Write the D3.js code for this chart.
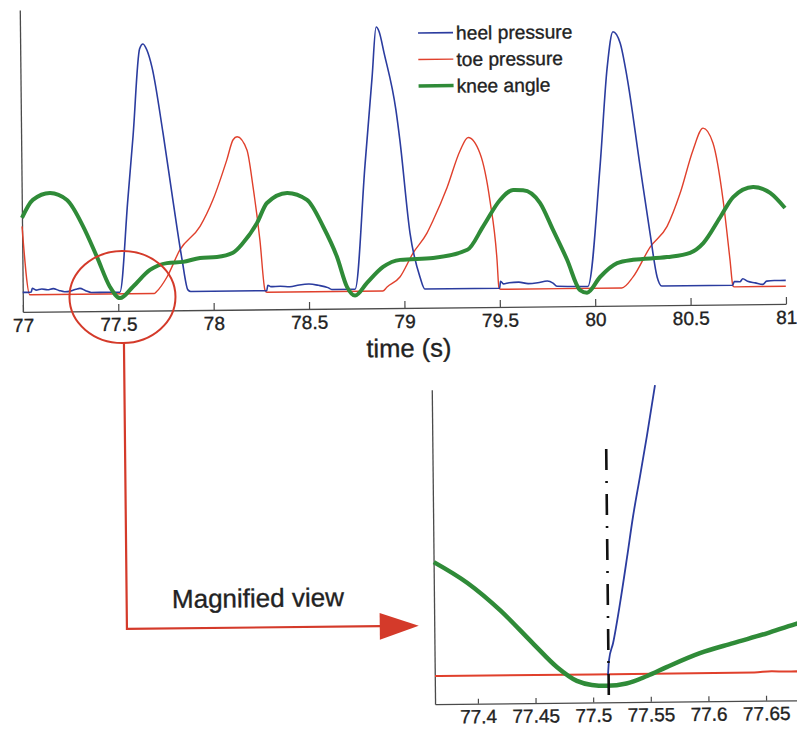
<!DOCTYPE html>
<html>
<head>
<meta charset="utf-8">
<script src="https://cdn.jsdelivr.net/npm/d3@7"></script>
<style>
  html, body { margin: 0; padding: 0; background: #fff; }
  svg { display: block; }
  text { font-family: "Liberation Sans", Arial, Helvetica, sans-serif; fill: #222; }
</style>
</head>
<body>
<svg id="chart" width="797" height="729"></svg>
<script>
// ---------------- DATA (time in s, values in relative units) ----------------
const mainTicks = [77, 77.5, 78, 78.5, 79, 79.5, 80, 80.5, 81];
const insetTicks = [77.4, 77.45, 77.5, 77.55, 77.6, 77.65];
const legendLabels = ["heel pressure", "toe pressure", "knee angle"];
const xTitle = "time (s)";
const annotationText = "Magnified view";

const heelPressure = [
  [77.000,0.3],[77.030,0.3],[77.045,0.4],[77.050,1.8],[77.070,1.1],[77.100,1.5],[77.130,1.2],[77.160,1.6],
  [77.190,0.9],[77.220,0.4],[77.250,0.6],[77.280,1.3],[77.300,1.6],[77.330,0.7],[77.360,0.0],[77.450,0.0],
  [77.509,0.0],[77.556,34.6],[77.587,58.5],[77.626,91.0],[77.644,92.8],[77.664,90.5],[77.690,84.0],
  [77.744,59.4],[77.792,34.3],[77.837,11.9],[77.866,0.6],[77.881,0.0],[78.270,0.0],[78.279,0.0],
  [78.285,2.0],[78.300,1.5],[78.350,1.6],[78.400,1.4],[78.450,2.0],[78.500,2.3],[78.550,1.8],[78.600,0.9],
  [78.620,0.2],[78.742,0.2],[78.801,46.6],[78.843,79.5],[78.867,98.2],[78.882,96.5],[78.907,88.5],
  [78.966,67.1],[78.985,55.9],[79.033,21.1],[79.083,4.5],[79.108,0.0],[79.500,0.0],[79.505,2.6],
  [79.520,1.6],[79.550,2.0],[79.600,2.2],[79.650,1.6],[79.700,1.9],[79.750,2.5],[79.780,1.7],[79.800,0.5],
  [79.962,0.3],[80.033,45.3],[80.076,82.4],[80.108,95.5],[80.145,91.3],[80.179,78.6],[80.243,44.9],
  [80.291,20.1],[80.326,3.6],[80.350,0.2],[80.722,0.2],[80.730,1.6],[80.760,1.5],[80.775,2.6],[80.800,1.6],
  [80.840,1.0],[80.880,0.4],[80.900,1.6],[80.940,1.8],[81.000,1.8]
];

const toePressure = [
  [77.000,25.0],[77.037,-0.6],[77.690,-0.6],[77.702,0.1],[77.757,5.5],[77.826,15.6],[77.933,24.3],
  [78.002,34.2],[78.077,49.1],[78.111,56.6],[78.132,57.7],[78.183,52.7],[78.213,38.9],[78.246,19.0],
  [78.270,0.2],[78.280,-0.6],[78.887,-0.6],[78.910,0.9],[78.978,4.6],[79.048,13.5],[79.122,20.9],
  [79.154,25.5],[79.230,37.9],[79.300,51.6],[79.343,56.5],[79.405,50.4],[79.454,32.8],[79.488,10.4],
  [79.496,0.3],[79.505,-0.4],[80.140,-0.4],[80.200,3.7],[80.291,14.8],[80.381,22.5],[80.451,34.8],
  [80.521,50.9],[80.575,59.1],[80.626,53.5],[80.676,32.1],[80.709,9.7],[80.723,-0.1],[80.730,-0.4],
  [81.000,-0.4]
];

const kneeAngle = [
  [77.000,28.2],[77.058,34.9],[77.148,37.4],[77.237,34.7],[77.320,24.8],[77.391,13.3],[77.457,2.1],
  [77.510,-2.2],[77.578,2.0],[77.668,8.2],[77.758,10.7],[77.842,11.1],[77.931,12.5],[78.020,12.8],
  [78.104,14.3],[78.157,17.9],[78.232,25.4],[78.285,32.8],[78.391,36.5],[78.495,33.8],[78.578,23.8],
  [78.649,12.4],[78.700,1.1],[78.742,-2.2],[78.805,2.5],[78.890,8.4],[78.980,11.0],[79.153,11.6],
  [79.333,14.5],[79.417,23.2],[79.507,33.0],[79.576,36.7],[79.628,36.6],[79.716,31.8],[79.783,21.6],
  [79.855,10.4],[79.921,-1.0],[79.958,-2.0],[80.027,3.8],[80.117,8.9],[80.201,10.1],[80.379,11.0],
  [80.500,12.5],[80.570,16.1],[80.660,25.7],[80.729,33.2],[80.834,36.9],[80.923,34.6],[81.000,28.9]
];

// magnified view
const insetHeel = [
  [77.5131,-0.3],[77.5141,5.4],[77.5178,11.9],[77.5242,27.1],[77.5307,44.6],[77.5362,60.0],
  [77.5427,75.5],[77.5491,91.0],[77.5565,110.1]
];
const insetToe = [
  [77.363,0.0],[77.500,0.0],[77.640,0.1],[77.655,0.5],[77.668,0.3],[77.682,0.4]
];
const insetKnee = [
  [77.363,43.5],[77.392,35.4],[77.420,24.9],[77.448,12.2],[77.469,2.9],[77.486,-2.4],[77.499,-4.0],
  [77.512,-4.4],[77.529,-3.6],[77.547,-0.8],[77.564,2.5],[77.593,7.7],[77.622,11.4],[77.652,15.1],
  [77.676,18.4],[77.682,19.1]
];
const heelStrikeMarker = [[77.5136,-7.9],[77.5136,86.3]];
const zoomRegion = [[77.5, 1.0]]; // centre of the circled region in the main plot (t, value)

// ---------------- STYLE ----------------
const colors = { heel: "#2b3c9f", toe: "#e0402c", knee: "#2f8b38", axis: "#4a4a4a", anno: "#d43a2a" };

// ---------------- DRAW ----------------
const svg = d3.select("#chart");
svg.append("rect").attr("width", 797).attr("height", 729).attr("fill", "#fff");
const root = svg.append("g").attr("transform", "rotate(-0.6 398 364)");

function inkText(sel) { return sel.attr("stroke", "#222").attr("stroke-width", 0.35); }

// ===== main plot =====
const x = d3.scaleLinear().domain([77, 81]).range([23.5, 786.6]);
const y = d3.scaleLinear().domain([-7, 106]).range([308, 6]);

const xAxis = d3.axisBottom(x).tickValues(mainTicks).tickFormat(d => String(d))
  .tickSizeInner(-7).tickSizeOuter(0).tickPadding(6.5);
const gx = root.append("g").attr("transform", `translate(0,${y(-7)})`).call(xAxis);
gx.select(".domain").attr("stroke", colors.axis).attr("stroke-width", 1.3);
gx.selectAll(".tick line").attr("stroke", colors.axis).attr("stroke-width", 1.2);
inkText(gx.selectAll(".tick text").attr("font-size", 19).attr("fill", "#222")
  .attr("font-family", "Liberation Sans, Arial, sans-serif"));

const yAxis = d3.axisLeft(y).tickValues([]).tickSizeOuter(0);
const gy = root.append("g").attr("transform", `translate(${x(77)},0)`).call(yAxis);
gy.select(".domain").attr("stroke", colors.axis).attr("stroke-width", 1.3);

inkText(root.append("text").attr("x", (x(77) + x(81)) / 2 + 4).attr("y", 357)
  .attr("text-anchor", "middle").attr("font-size", 25.5).text(xTitle));

const line = d3.line().x(d => x(d[0])).y(d => y(d[1])).curve(d3.curveMonotoneX);
root.append("path").datum(toePressure).attr("d", line).attr("fill", "none")
  .attr("stroke", colors.toe).attr("stroke-width", 1.4);
root.append("path").datum(heelPressure).attr("d", line).attr("fill", "none")
  .attr("stroke", colors.heel).attr("stroke-width", 1.6);
root.append("path").datum(kneeAngle).attr("d", line).attr("fill", "none")
  .attr("stroke", colors.knee).attr("stroke-width", 4).attr("stroke-linejoin", "round");

// legend
const legendStyles = [
  { c: colors.heel, w: 1.6 }, { c: colors.toe, w: 1.4 }, { c: colors.knee, w: 3.5 }
];
const lg = root.append("g").attr("transform", "translate(421.5,33.2)");
legendLabels.forEach((lab, i) => {
  const row = lg.append("g").attr("transform", `translate(0,${i * 26.5})`);
  row.append("line").attr("x1", 0).attr("x2", 35).attr("y1", 0).attr("y2", 0)
    .attr("stroke", legendStyles[i].c).attr("stroke-width", legendStyles[i].w);
  inkText(row.append("text").attr("x", 38).attr("y", 0).attr("dy", "0.36em")
    .attr("font-size", 19.2).text(lab));
});

// annotation ellipse + arrow
const zc = zoomRegion[0];
const ecx = x(zc[0]) + 4.3, ecy = y(zc[1]) + 7.5;
root.append("ellipse").attr("cx", ecx).attr("cy", ecy).attr("rx", 53).attr("ry", 46)
  .attr("fill", "none").attr("stroke", colors.anno).attr("stroke-width", 2);
const ax = ecx + 1, ayTop = ecy + 46, ayBot = 626;
root.append("path").attr("d", `M${ax},${ayTop} L${ax},${ayBot} L378,${ayBot}`)
  .attr("fill", "none").attr("stroke", colors.anno).attr("stroke-width", 2.2);
root.append("path").attr("d", `M377,612.8 L416,626 L377,639.6 Z`).attr("fill", colors.anno);
inkText(root.append("text").attr("x", 169.5).attr("y", 605.6).attr("font-size", 26).text(annotationText));

// ===== magnified view =====
const xi = d3.scaleLinear().domain([77.3628, 77.6825]).range([431.5, 800]);
const yi = d3.scaleLinear().domain([-10.7, 109.3]).range([704.5, 390]);

const xiAxis = d3.axisBottom(xi).tickValues(insetTicks).tickFormat(d => String(d))
  .tickSizeInner(-5).tickSizeOuter(0).tickPadding(6);
const gxi = root.append("g").attr("transform", `translate(0,${yi(-10.7)})`).call(xiAxis);
gxi.select(".domain").attr("stroke", colors.axis).attr("stroke-width", 1.3);
gxi.selectAll(".tick line").attr("stroke", colors.axis).attr("stroke-width", 1.2);
inkText(gxi.selectAll(".tick text").attr("font-size", 19).attr("fill", "#222")
  .attr("font-family", "Liberation Sans, Arial, sans-serif"));
const gyi = root.append("g").attr("transform", `translate(${xi(77.3628)},0)`)
  .call(d3.axisLeft(yi).tickValues([]).tickSizeOuter(0));
gyi.select(".domain").attr("stroke", colors.axis).attr("stroke-width", 1.3);

const linei = d3.line().x(d => xi(d[0])).y(d => yi(d[1])).curve(d3.curveMonotoneX);
root.append("path").datum(insetToe).attr("d", linei).attr("fill", "none")
  .attr("stroke", colors.toe).attr("stroke-width", 2);
root.append("path").datum(insetKnee).attr("d", linei).attr("fill", "none")
  .attr("stroke", colors.knee).attr("stroke-width", 4.5).attr("stroke-linejoin", "round");
root.append("path").datum(insetHeel).attr("d", linei).attr("fill", "none")
  .attr("stroke", colors.heel).attr("stroke-width", 1.8);
root.append("path").datum(heelStrikeMarker)
  .attr("d", d3.line().x(d => xi(d[0])).y(d => yi(d[1])))
  .attr("fill", "none").attr("stroke", "#111").attr("stroke-width", 2.6)
  .attr("stroke-dasharray", "21,11,2,11");
</script>
</body>
</html>
